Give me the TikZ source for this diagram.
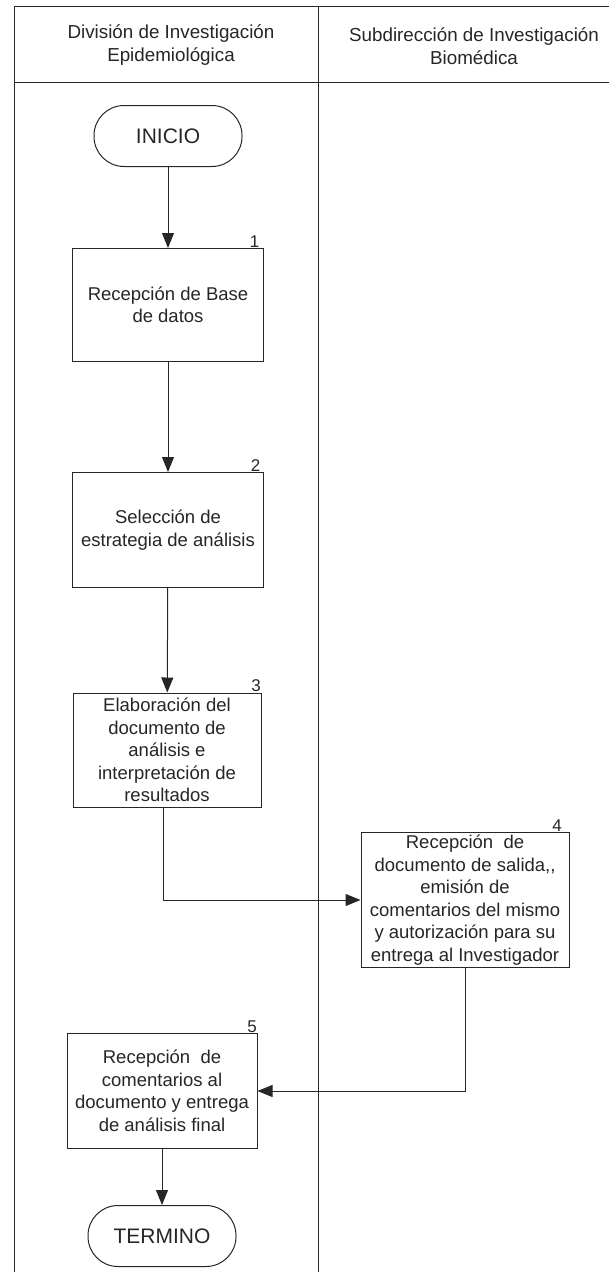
\documentclass[tikz,border=0pt]{standalone}
\usepackage{fontspec}
\setmainfont{Liberation Sans}
\usepackage{tikz}
\usetikzlibrary{positioning, arrows.meta, shapes.geometric}
\usepackage{xcolor}
\definecolor{inkGray}{HTML}{262626}

\begin{document}
\begin{tikzpicture}[x=1pt, y=-1pt,
    box/.style={draw=inkGray, line width=1pt, fill=white, align=center, inner sep=0pt, text=inkGray, font=\fontsize{18.5}{22.5}\selectfont},
    term/.style={box, rounded corners=30pt, minimum width=148pt, minimum height=61pt, font=\fontsize{21}{25}\selectfont},
    num/.style={anchor=south east, inner sep=0.5pt, text=inkGray, font=\fontsize{17}{20}\selectfont},
    head/.style={align=center, text=inkGray, font=\fontsize{18.8}{23}\selectfont},
    lane/.style={draw=inkGray, line width=1pt},
    flow/.style={draw=inkGray, line width=1pt, -{Triangle[length=15pt, width=12pt]}}]
            \useasboundingbox (0,0) rectangle (609,1272);
            % lanes
            \draw[lane] (14,6) -- (609,6);
            \draw[lane] (14,82) -- (609,82);
            \draw[lane] (14,6) -- (14,1272);
            \draw[lane] (318,6) -- (318,1272);
            \node[head] (hEpi) at (171,45) {División de Investigación\\Epidemiológica};
            \node[head] (hBio) at (474,46) {Subdirección de Investigación\\Biomédica};
            % steps
            \node[term] (inicio) at (168,136) {INICIO};
            \node[box, minimum width=191pt, minimum height=113pt] (b1) at (168,305) {Recepción de Base\\de datos};
            \node[box, minimum width=191pt, minimum height=115pt] (b2) at (168,530) {Selección de\\estrategia de análisis};
            \node[box, minimum width=188pt, minimum height=114pt] (b3) at (167,750) {Elaboración del\\documento de\\análisis e\\interpretación de\\resultados};
            \node[box, minimum width=208pt, minimum height=135pt] (b4) at (465,900) {Recepción~ de\\documento de salida,{},\\emisión de\\comentarios del mismo\\y autorización para su\\entrega al Investigador};
            \node[box, minimum width=190pt, minimum height=115pt] (b5) at (162,1091) {Recepción~ de\\comentarios al\\documento y entrega\\de análisis final};
            \node[term] (termino) at (162,1236) {TERMINO};
            \node[num] (n1) at ([xshift=-4pt]b1.north east) {1};
            \node[num] (n2) at ([xshift=-3pt]b2.north east) {2};
            \node[num] (n3) at ([xshift=0pt]b3.north east) {3};
            \node[num] (n4) at ([xshift=-7pt]b4.north east) {4};
            \node[num] (n5) at ([xshift=0pt]b5.north east) {5};
            % connectors
            \draw[flow] (inicio) -- (b1);
            \draw[flow] (b1) -- (b2);
            \draw[flow] (b2) -- (b3);
            \draw[flow] ([xshift=-4pt]b3.south) |- (b4.west);
            \draw[flow] (b4.south) |- (b5.east);
            \draw[flow] (b5) -- (termino);
        \end{tikzpicture}
\end{document}
